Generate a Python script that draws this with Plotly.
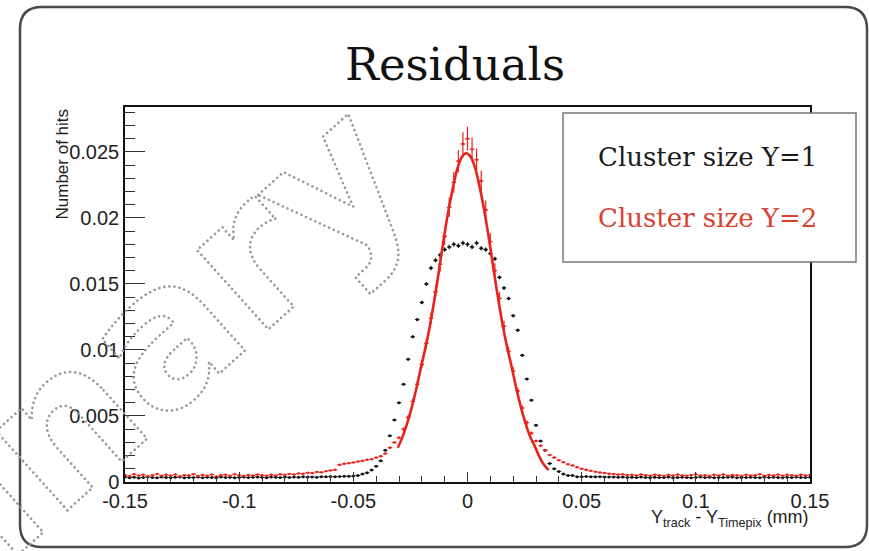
import numpy as np
import plotly.graph_objects as go

# ---------------- data ----------------
bin_centers = np.round(np.arange(-0.150, 0.1501, 0.002), 4)  # 151 bins, width 0.002

size1_tail_left = [0.00038,0.00033,0.00036,0.00031,0.00035,0.00039,0.00034,0.00032,0.00037,0.00035,
                   0.00033,0.00036,0.00038,0.00032,0.00035,0.00034,0.00037,0.00033,0.00036,0.00035,
                   0.00032,0.00038,0.00034,0.00036,0.00033,0.00035,0.00037,0.00034,0.00036,0.00038,
                   0.00035,0.00033,0.00037,0.00036,0.00034,0.00038,0.00035,0.00037,0.00036,0.00039,
                   0.00037,0.00038,0.00036,0.00040,0.00039,0.00041,0.00040,0.00042,0.00043,0.00044]
size1_core = [0.00045,0.0005,0.0006,0.0007,0.0009,0.0012,0.0016,0.0024,0.0035,0.0047,
              0.0060,0.0074,0.0093,0.0110,0.0123,0.0136,0.0150,0.0162,0.0168,0.0172,
              0.0176,0.0178,0.0180,0.0179,0.0181,0.0180,0.0178,0.0181,0.0177,0.0176,
              0.0173,0.0169,0.0155,0.0147,0.0139,0.0126,0.0115,0.0096,0.0078,0.0062,
              0.0043,0.0031,0.0024,0.0014,0.0010,0.0008,0.0006,0.0005,0.0005,0.0004,
              0.0004]
size1_tail_right = [0.00042,0.00040,0.00039,0.00040,0.00038,0.00037,0.00038,0.00036,0.00037,0.00035,
                    0.00036,0.00034,0.00037,0.00035,0.00033,0.00036,0.00034,0.00035,0.00037,0.00033,
                    0.00035,0.00036,0.00034,0.00032,0.00035,0.00037,0.00034,0.00036,0.00033,0.00035,
                    0.00034,0.00036,0.00038,0.00033,0.00035,0.00034,0.00036,0.00035,0.00033,0.00037,
                    0.00034,0.00036,0.00035,0.00033,0.00036,0.00034,0.00037,0.00035,0.00034,0.00036]
size1_values = size1_tail_left + size1_core + size1_tail_right

size2_tail_left = [0.00052,0.00045,0.00058,0.00049,0.00055,0.00043,0.00051,0.00060,0.00047,0.00054,
                   0.00049,0.00057,0.00044,0.00052,0.00050,0.00059,0.00046,0.00053,0.00048,0.00056,
                   0.00042,0.00051,0.00055,0.00047,0.00058,0.00050,0.00045,0.00053,0.00049,0.00057,
                   0.00052,0.00047,0.00055,0.00050,0.00058,0.00054,0.00061,0.00057,0.00065,0.00062,
                   0.00070,0.00068,0.00076,0.00073,0.00082,0.00088,0.00092,0.00130,0.00138,0.00142]
size2_core = [0.00148,0.00155,0.00160,0.00168,0.00172,0.00185,0.00195,0.00215,0.00260,0.00300,
              0.00335,0.00400,0.00490,0.00610,0.00740,0.00890,0.01050,0.01240,0.01440,0.01650,
              0.01860,0.02080,0.02270,0.02430,0.02560,0.02600,0.02520,0.02440,0.02280,0.02060,
              0.01820,0.01600,0.01390,0.01180,0.00990,0.00840,0.00690,0.00560,0.00450,0.00370,
              0.00310,0.00275,0.00240,0.00205,0.00185,0.00165,0.00150,0.00135,0.00125,0.00112,
              0.00100]
size2_tail_right = [0.00092,0.00085,0.00078,0.00072,0.00068,0.00063,0.00060,0.00056,0.00058,0.00053,
                    0.00055,0.00050,0.00057,0.00052,0.00048,0.00055,0.00051,0.00046,0.00054,0.00049,
                    0.00056,0.00050,0.00047,0.00053,0.00058,0.00049,0.00052,0.00045,0.00054,0.00050,
                    0.00057,0.00048,0.00053,0.00051,0.00046,0.00055,0.00049,0.00052,0.00058,0.00047,
                    0.00053,0.00050,0.00056,0.00048,0.00054,0.00051,0.00047,0.00055,0.00050,0.00053]
size2_values = size2_tail_left + size2_core + size2_tail_right

fit_x = [-0.0305,-0.0285,-0.0265,-0.0245,-0.0225,-0.0205,-0.0185,-0.0165,-0.0145,-0.0125,
         -0.0105,-0.0085,-0.0065,-0.0045,-0.0025,-0.0005,0.0015,0.0035,0.0055,0.0075,
         0.0095,0.0115,0.0135,0.0155,0.0175,0.0195,0.0215,0.0235,0.0255,0.0275,
         0.0295,0.0315,0.0335,0.0355]
fit_y = [0.0026,0.0034,0.0044,0.0056,0.0070,0.0086,0.0101,0.0118,0.0138,0.0160,
         0.0183,0.0204,0.0222,0.0237,0.0246,0.0249,0.0246,0.0237,0.0222,0.0204,
         0.0183,0.0160,0.0138,0.0118,0.0101,0.0086,0.0070,0.0056,0.0044,0.0034,
         0.0027,0.0019,0.0013,0.0009]

x_tickvals = [-0.15, -0.1, -0.05, 0, 0.05, 0.1, 0.15]
x_ticktext = ["-0.15", "-0.1", "-0.05", "0", "0.05", "0.1", "0.15"]
y_tickvals = [0, 0.005, 0.01, 0.015, 0.02, 0.025]
y_ticktext = ["0", "0.005", "0.01", "0.015", "0.02", "0.025"]

legend_labels = ["Cluster size Y=1", "Cluster size Y=2"]
title_text = "Residuals"

# ---------------- layout geometry (pixels) ----------------
W, H = 869, 551
L, R, T, B = 125, 810, 107, 482

def px(x):
    return (x - L) / (R - L)

def py(y):
    return (B - y) / (B - T)

RED = "#e8231c"
BLACK = "#111111"

fig = go.Figure()

fig.add_trace(go.Scatter(
    x=bin_centers, y=size1_values, mode="markers",
    marker=dict(color=BLACK, size=3),
    error_x=dict(type="constant", value=0.001, width=0, thickness=1, color=BLACK),
    error_y=dict(type="percent", value=1.0, width=0, thickness=1, color=BLACK),
    showlegend=False, hoverinfo="skip"))

fig.add_trace(go.Scatter(
    x=bin_centers, y=size2_values, mode="markers",
    marker=dict(color=RED, size=2.5),
    error_x=dict(type="constant", value=0.001, width=0, thickness=1.2, color=RED),
    error_y=dict(type="percent", value=3.5, width=0, thickness=1.2, color=RED),
    showlegend=False, hoverinfo="skip"))

fig.add_trace(go.Scatter(
    x=fit_x, y=fit_y, mode="lines",
    line=dict(color=RED, width=2.6, shape="spline", smoothing=0.8),
    showlegend=False, hoverinfo="skip"))

tickfont = dict(family="Liberation Sans, Arial, sans-serif", size=20, color="#222")

fig.update_xaxes(
    range=[-0.15, 0.15], showline=True, linecolor="#111", linewidth=1.5, mirror=True,
    showgrid=False, zeroline=False,
    tickvals=x_tickvals, ticktext=x_ticktext, ticks="inside", ticklen=10, tickwidth=1,
    tickcolor="#333", tickfont=tickfont, ticklabelstandoff=0,
    minor=dict(dtick=0.01, tick0=0, ticks="inside", ticklen=6, tickwidth=1, tickcolor="#333"))
fig.update_yaxes(
    range=[0, 0.0284], showline=True, linecolor="#111", linewidth=1.5, mirror=True,
    showgrid=False, zeroline=False,
    tickvals=y_tickvals, ticktext=y_ticktext, ticks="inside", ticklen=20, tickwidth=1,
    tickcolor="#333", tickfont=tickfont, ticklabelstandoff=0,
    minor=dict(dtick=0.001, tick0=0, ticks="inside", ticklen=10, tickwidth=1, tickcolor="#333"))

# rounded outer frame
xl, xr, yt, yb, r = 20, 867, 7, 547, 22
pts = [("M", xl + r, yt), ("L", xr - r, yt), ("Q", xr, yt, xr, yt + r), ("L", xr, yb - r),
       ("Q", xr, yb, xr - r, yb), ("L", xl + r, yb), ("Q", xl, yb, xl, yb - r),
       ("L", xl, yt + r), ("Q", xl, yt, xl + r, yt)]
path = ""
for p in pts:
    if p[0] == "Q":
        path += f"Q {px(p[1]):.5f},{py(p[2]):.5f} {px(p[3]):.5f},{py(p[4]):.5f} "
    else:
        path += f"{p[0]} {px(p[1]):.5f},{py(p[2]):.5f} "
path += "Z"

shapes = [
    dict(type="path", path=path, xref="paper", yref="paper",
         line=dict(color="#4a4a4a", width=2.5), layer="below"),
    dict(type="rect", xref="paper", yref="paper", x0=px(563), x1=px(856), y0=py(262), y1=py(113),
         line=dict(color="#777", width=1.5), fillcolor="white", layer="above"),
]

serif = "DejaVu Serif, serif"
sans = "Liberation Sans, Arial, sans-serif"
annotations = [
    dict(text=title_text, x=px(455), y=py(65), xref="paper", yref="paper", showarrow=False,
         xanchor="center", yanchor="middle", font=dict(family=serif, size=45, color="#111")),
    dict(text=legend_labels[0], x=px(596), y=py(157), xref="paper", yref="paper", showarrow=False,
         xanchor="left", yanchor="middle", font=dict(family=serif, size=26, color="#1a1a1a")),
    dict(text=legend_labels[1], x=px(596), y=py(218), xref="paper", yref="paper", showarrow=False,
         xanchor="left", yanchor="middle", font=dict(family=serif, size=26, color="#d9412f")),
    dict(text="Number of hits", x=px(62), y=py(107), xref="paper", yref="paper", showarrow=False,
         textangle=-90, xanchor="center", yanchor="top",
         font=dict(family=sans, size=17, color="#222")),
    dict(text="Y<sub>track</sub> - Y<sub>Timepix</sub> (mm)", x=px(811), y=py(518),
         xref="paper", yref="paper", showarrow=False, xanchor="right", yanchor="middle",
         font=dict(family=sans, size=18, color="#222")),
    dict(text='<span style="fill:none;stroke:#999999;stroke-width:2.6;stroke-dasharray:0.1 5;'
              'stroke-linecap:round">Preliminary</span>',
         x=px(-95), y=py(565), xref="paper", yref="paper", showarrow=False, textangle=-42,
         xanchor="center", yanchor="middle",
         font=dict(family="DejaVu Sans, sans-serif", size=195, color="rgba(0,0,0,0)", weight="bold")),
]

fig.update_layout(
    width=W, height=H, margin=dict(l=L, r=W - R, t=T, b=H - B),
    paper_bgcolor="white", plot_bgcolor="white",
    shapes=shapes, annotations=annotations, showlegend=False)

fig.write_html("out.html")
